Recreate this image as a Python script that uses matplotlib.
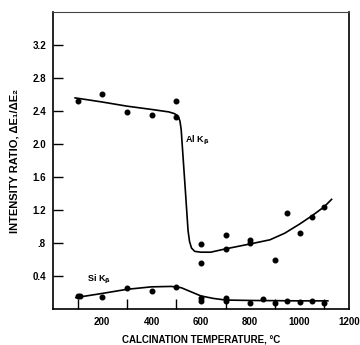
import numpy as np
import matplotlib
matplotlib.use('Agg')
import matplotlib.pyplot as plt

plt.rcParams['font.family'] = ['Liberation Sans', 'DejaVu Sans']
plt.rcParams['font.weight'] = 'bold'
plt.rcParams['mathtext.default'] = 'bf'

# measured points, Al K-beta
al_temp = [100, 200, 300, 400, 500, 500, 600, 600, 700, 700, 800, 800,
           900, 950, 1000, 1050, 1100]
al_ratio = [2.52, 2.61, 2.39, 2.35, 2.52, 2.33, 0.79, 0.56, 0.90, 0.73,
            0.84, 0.80, 0.59, 1.16, 0.92, 1.12, 1.24]

# hand drawn curve through Al points
al_curve_t = [90, 200, 300, 400, 470, 492, 503, 510, 515, 520, 537, 548,
              554, 562, 575, 600, 640, 700, 800, 880, 940, 1000, 1050,
              1100, 1130]
al_curve_r = [2.56, 2.51, 2.46, 2.42, 2.39, 2.37, 2.35, 2.32, 2.28, 2.18,
              1.44, 0.95, 0.82, 0.74, 0.70, 0.69, 0.69, 0.73, 0.79, 0.84,
              0.92, 1.03, 1.13, 1.24, 1.33]

# measured points, Si K-beta
si_temp = [100, 110, 200, 300, 400, 500, 600, 600, 700, 700, 800, 850,
           900, 950, 1000, 1050, 1100]
si_ratio = [0.16, 0.16, 0.15, 0.25, 0.22, 0.27, 0.14, 0.10, 0.13, 0.10,
            0.08, 0.12, 0.08, 0.10, 0.09, 0.10, 0.08]

si_curve_t = [93, 200, 300, 400, 480, 520, 560, 600, 650, 700, 800, 1000, 1115]
si_curve_r = [0.14, 0.19, 0.24, 0.27, 0.275, 0.26, 0.21, 0.16, 0.13, 0.11,
              0.105, 0.10, 0.10]

y_ticks = [0.4, 0.8, 1.2, 1.6, 2.0, 2.4, 2.8, 3.2]
y_labels = ['0.4', '.8', '1.2', '1.6', '2.0', '2.4', '2.8', '3.2']
x_labels = [200, 400, 600, 800, 1000, 1200]

fig = plt.figure(figsize=(3.6, 3.45), dpi=100)
ax = fig.add_axes([0.147, 0.104, 0.822, 0.861])

ax.plot(al_curve_t, al_curve_r, color='black', lw=1.2)
ax.plot(si_curve_t, si_curve_r, color='black', lw=1.2)
ax.plot(al_temp, al_ratio, 'o', color='black', ms=3.3)
ax.plot(si_temp, si_ratio, 'o', color='black', ms=3.3)

ax.text(535, 2.02, 'Al K$_\\beta$', fontsize=6.5, fontweight='bold')
ax.text(140, 0.33, 'Si K$_\\beta$', fontsize=6.5, fontweight='bold')

ax.set_xlim(0, 1200)
ax.set_ylim(0, 3.6)
ax.set_xticks(np.arange(100, 1200, 100), minor=True)
ax.set_xticks(x_labels)
ax.set_xticklabels([str(v) for v in x_labels])
ax.set_yticks(y_ticks)
ax.set_yticklabels(y_labels)
ax.tick_params(axis='x', which='major', length=0, labelsize=7, pad=6)
ax.tick_params(axis='x', which='minor', direction='in', length=7, width=1)
ax.tick_params(axis='y', direction='in', length=7, width=1, labelsize=7, pad=5)

for s in ['left', 'bottom', 'right']:
    ax.spines[s].set_linewidth(1.2)
ax.spines['top'].set_linewidth(0.8)
ax.spines['top'].set_color('#444444')

ax.set_xlabel('CALCINATION TEMPERATURE, °C', fontsize=7,
              fontweight='bold', labelpad=5)
ax.set_ylabel('INTENSITY RATIO, ΔE₁/ΔE₂', fontsize=8,
              fontweight='bold', labelpad=9)

plt.savefig('out.png', dpi=100)
